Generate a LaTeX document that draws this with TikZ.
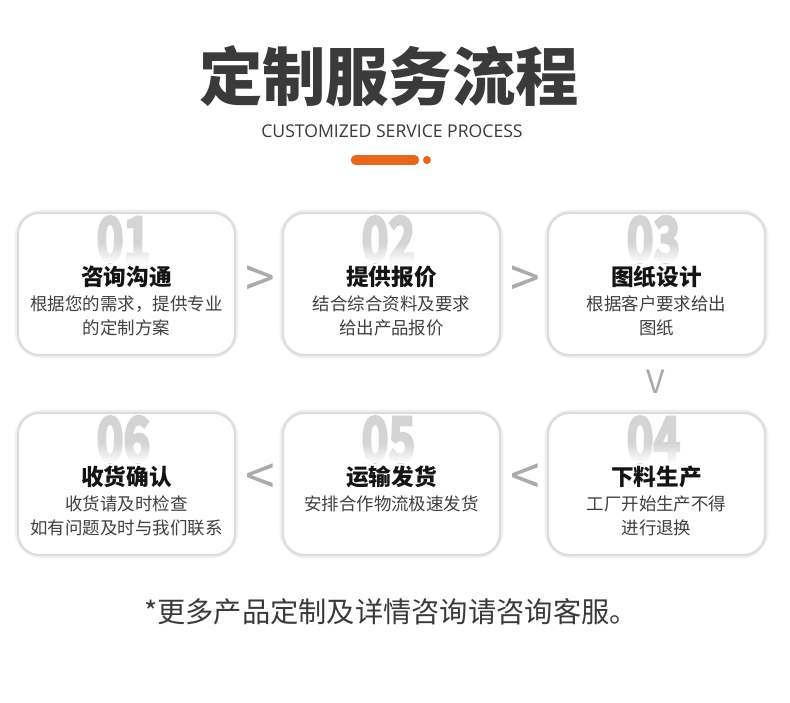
\documentclass[tikz,border=0pt]{standalone}
\usepackage{fontspec}
\setmainfont{Noto Sans CJK SC}
\newfontfamily\cjk{Noto Sans CJK SC}
\newfontfamily\latin{Open Sans}
\newfontfamily\numfont[FakeBold=5]{Noto Sans CJK SC Bold}
\usetikzlibrary{fadings}
\definecolor{titlegray}{HTML}{3A3A3A}
\definecolor{descgray}{HTML}{404040}
\definecolor{accent}{HTML}{E8671B}
\definecolor{chevron}{HTML}{ABABAB}
\definecolor{numgray}{HTML}{D4D4D4}
\definecolor{boxline}{HTML}{DCDCDC}
\definecolor{boxglow}{HTML}{F0F0F0}
\tikzfading[name=fadedown, top color=transparent!100, bottom color=transparent!0]
\tikzset{
  card/.style={draw=boxline, line width=1.6, fill=white, rounded corners=16},
  cardglow/.style={draw=boxglow, line width=5, rounded corners=18},
  bignum/.style={anchor=base, inner sep=0, text=numgray, xscale=0.74, font=\numfont\fontsize{46}{46}\selectfont},
  cardtitle/.style={inner sep=0, text=black!92, font=\cjk\bfseries\fontsize{17}{17}\selectfont},
  carddesc/.style={inner sep=0, text=descgray, font=\cjk\fontsize{13.1}{13.1}\selectfont},
  chev/.style={inner sep=0, text=chevron, font=\cjk\fontsize{40}{40}\selectfont},
  chevv/.style={inner sep=0, text=chevron, font=\cjk\fontsize{24}{24}\selectfont}
}
\newcommand{\mkcard}[7]{%
  % #1 name, #2 cx, #3 cy(top), #4 number, #5 title, #6 line1, #7 line2
  \draw[cardglow] (#2-108.5,#3) rectangle (#2+108.5,#3+142);
  \draw[card] (#2-108.5,#3) coordinate (#1-nw) rectangle (#2+108.5,#3+142) coordinate (#1-se);
  \node (#1) at (#2,#3+71) {};
  \node[bignum] (#1-num) at (#2-3,#3+48.5) {#4};
  \fill[white, path fading=fadedown] (#2-45,#3+30) rectangle (#2+45,#3+50);
  \node[cardtitle] (#1-title) at (#2,#3+64) {#5};
  \node[carddesc] (#1-l1) at (#2,#3+91) {#6};
  \node[carddesc] (#1-l2) at (#2,#3+115) {#7};
}
\begin{document}
\begin{tikzpicture}[x=0.75pt,y=-0.75pt]
\useasboundingbox[fill=white] (0,0) rectangle (790,703);
% header
\node[inner sep=0, text=titlegray, font=\cjk\bfseries\fontsize{47.5}{47.5}\selectfont] (title) at (389,76) {定制服务流程};
\node[inner sep=0, text=titlegray, font=\latin\fontsize{13.2}{13.2}\selectfont] (subtitle) at (392,131) {CUSTOMIZED SERVICE PROCESS};
\coordinate (barL) at (355.5,160);
\coordinate (barR) at (414.5,160);
\draw[accent, line width=7, line cap=round] (barL) -- (barR);
\fill[accent] (427,160) circle (4);
% cards
\mkcard{c1}{126.5}{213}{01}{咨询沟通}{根据您的需求，提供专业}{的定制方案}
\mkcard{c2}{391.5}{213}{02}{提供报价}{结合综合资料及要求}{给出产品报价}
\mkcard{c3}{656.5}{213}{03}{图纸设计}{根据客户要求给出}{图纸}
\mkcard{c4}{656.5}{413}{04}{下料生产}{工厂开始生产不得}{进行退换}
\mkcard{c5}{391.5}{413}{05}{运输发货}{安排合作物流极速发货}{}
\mkcard{c6}{126.5}{413}{06}{收货确认}{收货请及时检查}{如有问题及时与我们联系}
% chevrons
\node[chev] (a12) at (260,282) {>};
\node[chev] (a23) at (525,282) {>};
\node[chevv] (a34) at (656,382) {V};
\node[chev] (a45) at (525,480) {<};
\node[chev] (a56) at (260,480) {<};
% footer
\node[inner sep=0, text=titlegray, font=\cjk\fontsize{21.2}{21.2}\selectfont] (footer) at (391,612) {*更多产品定制及详情咨询请咨询客服。};
\end{tikzpicture}
\end{document}
